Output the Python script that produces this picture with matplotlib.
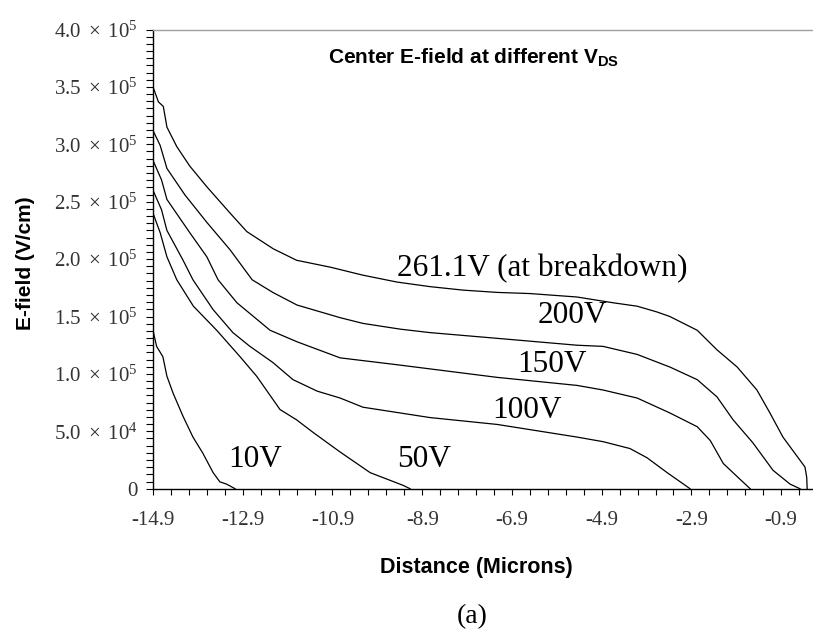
import numpy as np
import matplotlib
matplotlib.use("Agg")
import matplotlib.pyplot as plt
from matplotlib.ticker import FixedLocator, FuncFormatter

plt.rcParams["mathtext.fontset"] = "custom"
plt.rcParams["mathtext.rm"] = "Liberation Serif"
plt.rcParams["mathtext.it"] = "Liberation Serif:italic"
plt.rcParams["mathtext.bf"] = "Liberation Sans:bold"
plt.rcParams["axes.unicode_minus"] = False

# Centre electric field (units of 1e5 V/cm) versus distance (microns)
x_261 = [-14.9, -14.78, -14.67, -14.59, -14.37, -14.08, -13.70, -13.18, -12.81, -12.22,
         -11.70, -10.95, -10.22, -9.46, -8.72, -7.99, -7.23, -6.50, -5.45, -4.65,
         -4.11, -3.67, -3.38, -2.77, -2.33, -1.88, -1.44, -1.15, -0.86, -0.54,
         -0.37, -0.33, -0.32]
e_261 = [3.50, 3.37, 3.33, 3.15, 2.98, 2.81, 2.63, 2.40, 2.24, 2.09,
         1.99, 1.93, 1.86, 1.80, 1.76, 1.73, 1.71, 1.70, 1.67, 1.62,
         1.59, 1.54, 1.50, 1.38, 1.21, 1.06, 0.86, 0.66, 0.45, 0.28,
         0.19, 0.10, 0.0]

x_200 = [-14.9, -14.74, -14.59, -14.19, -13.70, -13.18, -12.69, -12.23, -11.69, -10.73,
         -10.22, -9.39, -8.73, -7.23, -5.45, -4.87, -4.11, -3.38, -2.77, -2.33,
         -1.97, -1.53, -1.08, -0.70, -0.48]
e_200 = [3.12, 2.99, 2.79, 2.56, 2.32, 2.08, 1.82, 1.71, 1.60, 1.49,
         1.44, 1.39, 1.36, 1.31, 1.25, 1.24, 1.17, 1.06, 0.95, 0.80,
         0.60, 0.40, 0.16, 0.04, 0.0]

x_150 = [-14.9, -14.71, -14.59, -14.08, -13.70, -13.45, -13.03, -12.29, -11.69, -10.73,
         -9.46, -7.23, -5.45, -4.87, -4.11, -3.38, -2.77, -2.48, -2.19, -1.81, -1.59]
e_150 = [2.86, 2.69, 2.52, 2.23, 2.02, 1.82, 1.62, 1.38, 1.28, 1.14,
         1.08, 0.97, 0.90, 0.86, 0.79, 0.66, 0.54, 0.42, 0.22, 0.08, 0.0]

x_100 = [-14.9, -14.71, -14.59, -14.23, -14.01, -13.56, -13.12, -12.74, -12.23, -11.78,
         -11.24, -10.73, -10.22, -8.73, -7.23, -5.45, -4.87, -4.27, -3.89, -3.44, -2.93]
e_100 = [2.60, 2.43, 2.25, 1.99, 1.82, 1.56, 1.36, 1.24, 1.10, 0.95,
         0.85, 0.79, 0.71, 0.62, 0.56, 0.45, 0.41, 0.35, 0.27, 0.14, 0.0]

x_50 = [-14.9, -14.74, -14.59, -14.37, -14.0, -13.48, -12.96, -12.59, -12.07, -11.70,
        -11.33, -10.73, -10.06, -9.33, -9.17]
e_50 = [2.40, 2.23, 2.02, 1.82, 1.59, 1.38, 1.15, 0.98, 0.69, 0.60,
        0.49, 0.32, 0.14, 0.03, 0.0]

x_10 = [-14.9, -14.82, -14.68, -14.59, -14.45, -14.23, -14.01, -13.79, -13.56, -13.41,
        -13.26, -13.07]
e_10 = [1.38, 1.24, 1.15, 0.98, 0.83, 0.63, 0.45, 0.31, 0.14, 0.06,
        0.04, 0.0]

curves = [(x_261, e_261), (x_200, e_200), (x_150, e_150),
          (x_100, e_100), (x_50, e_50), (x_10, e_10)]

# Curve labels: text, left x (microns), baseline field (1e5 V/cm)
curve_labels = ["261.1V (at breakdown)", "200V", "150V", "100V", "50V", "10V"]
label_x = [-9.46, -6.32, -6.79, -7.34, -9.46, -13.23]
label_e = [1.853, 1.444, 1.017, 0.616, 0.189, 0.189]

x_major = [-14.9, -12.9, -10.9, -8.9, -6.9, -4.9, -2.9, -0.9]
y_major = [0.0, 0.5, 1.0, 1.5, 2.0, 2.5, 3.0, 3.5, 4.0]
SCALE = 1e5

fig = plt.figure(figsize=(8.13, 6.32), dpi=100)
ax = fig.add_axes([0.1882, 0.2267, 0.8118, 0.7266])

for xs, es in curves:
    ax.plot(xs, np.array(es) * SCALE, color="black", lw=0.9)

for txt, lx, le in zip(curve_labels, label_x, label_e):
    ax.text(lx, le * SCALE, txt, ha="left", va="baseline",
            fontfamily="Liberation Serif", fontsize=22.5, color="black")

ax.set_xlim(-14.9, -0.19)
ax.set_ylim(0, 4.0 * SCALE)

ax.xaxis.set_major_locator(FixedLocator(x_major))
ax.xaxis.set_minor_locator(FixedLocator(np.arange(-14.9, -0.15, 0.4)))
ax.yaxis.set_major_locator(FixedLocator([v * SCALE for v in y_major]))
ax.yaxis.set_minor_locator(FixedLocator(np.arange(0, 4.0001, 0.0625) * SCALE))


def yfmt(v, pos):
    if v == 0:
        return "0"
    m = v / SCALE
    if m < 1:
        return r"$%.1f\ \times\ 10^{4}$" % (m * 10)
    return r"$%.1f\ \times\ 10^{5}$" % m


ax.yaxis.set_major_formatter(FuncFormatter(yfmt))
ax.xaxis.set_major_formatter(FuncFormatter(lambda v, p: "%.1f" % v))

ax.tick_params(axis="x", which="both", direction="out", length=4, width=0.8,
               pad=12, labelsize=15, colors="black")
ax.tick_params(axis="y", which="both", direction="out", length=5, width=0.8,
               pad=6, labelsize=15, colors="black")
for lab in ax.get_xticklabels() + ax.get_yticklabels():
    lab.set_fontfamily("Liberation Serif")
    lab.set_color("#333333")

ax.spines["right"].set_visible(False)
ax.spines["top"].set_color("#a0a0a0")
ax.spines["top"].set_linewidth(1.0)
ax.spines["left"].set_linewidth(1.0)
ax.spines["bottom"].set_linewidth(1.0)

fig.text(0.4034, 0.9003, r"Center E-field at different V$_{\mathbf{DS}}$",
         ha="left", va="baseline", fontfamily="Liberation Sans",
         fontweight="bold", fontsize=15)
fig.text(0.5855, 0.1028, "Distance (Microns)", ha="center", va="center",
         fontfamily="Liberation Sans", fontweight="bold", fontsize=15.5)
fig.text(0.0308, 0.5839, "E-field (V/cm)", ha="center", va="center", rotation=90,
         fontfamily="Liberation Sans", fontweight="bold", fontsize=15)
fig.text(0.5806, 0.0237, "(a)", ha="center", va="center",
         fontfamily="Liberation Serif", fontsize=20)

fig.savefig("out.png", dpi=100)
